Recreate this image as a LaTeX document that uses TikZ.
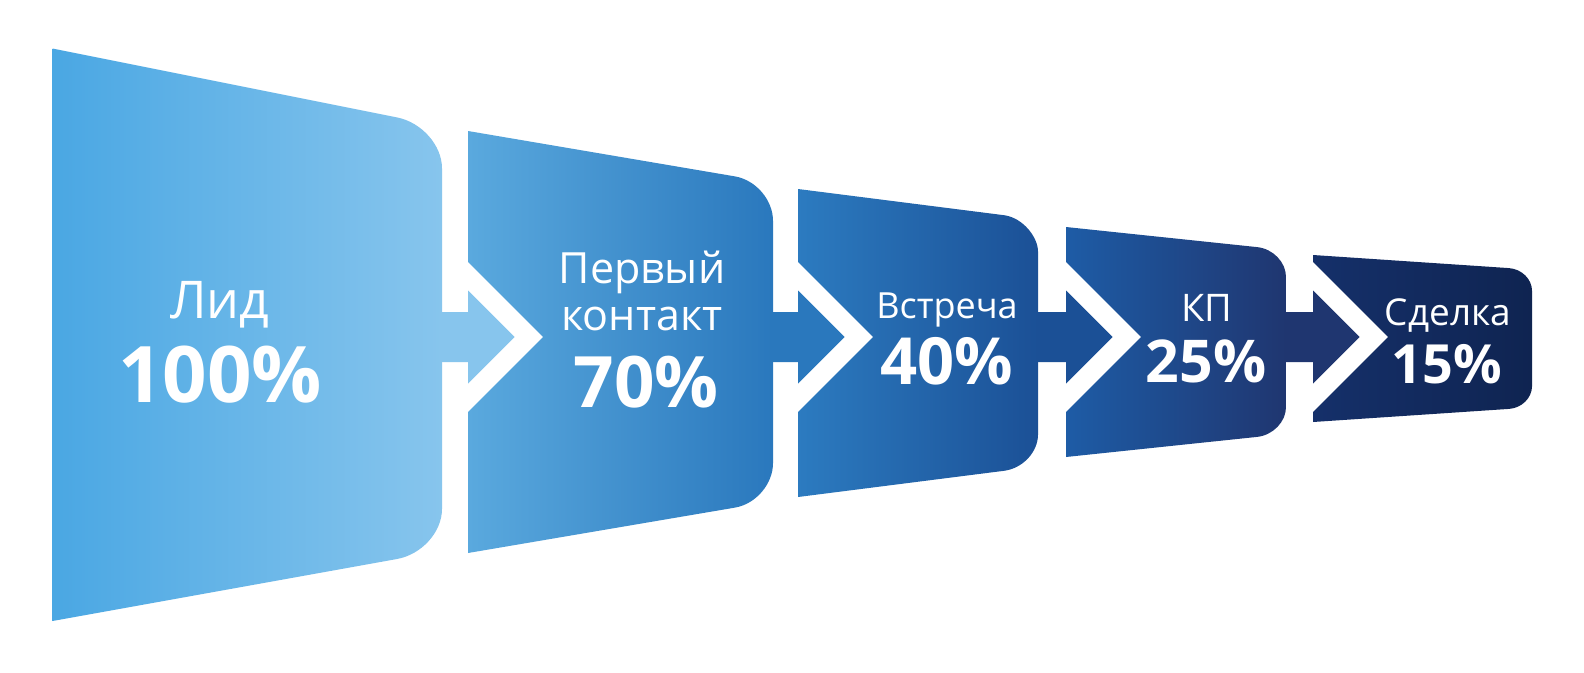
\documentclass[tikz,border=0pt]{standalone}
\usepackage{fontspec}
\setmainfont{Open Sans}
\definecolor{lidL}{HTML}{4AA7E3}
\definecolor{lidR}{HTML}{87C5ED}
\definecolor{kontL}{HTML}{5AA9DE}
\definecolor{kontR}{HTML}{2A78BD}
\definecolor{vstrL}{HTML}{2C7BC0}
\definecolor{vstrR}{HTML}{1B5096}
\definecolor{kpL}{HTML}{1E5CA6}
\definecolor{kpR}{HTML}{1F3670}
\definecolor{sdL}{HTML}{15306A}
\definecolor{sdR}{HTML}{0F2451}

\begin{document}
\begin{tikzpicture}[x=1pt,y=-1pt,
	lbl/.style={text=white,inner sep=0pt,anchor=base,font=\fontsize{#1}{#1}\selectfont},
	pct/.style={text=white,inner sep=0pt,anchor=base,font=\fontsize{#1}{#1}\selectfont\bfseries}]
					\useasboundingbox[fill=white] (0,0) rectangle (1584,672);
					% stages
					\shade[left color=lidL,right color=lidR] (52.5,48.5) -- (397,117.4) .. controls (421.8,122.4) and (442,145.3) .. (442,168.4) -- (442,508.9) .. controls (442,532) and (421.8,554.5) .. (397,559) -- (52.5,621) -- cycle;
					\shade[left color=kontL,right color=kontR] (468,131) -- (735,176.4) .. controls (755.9,180) and (773,200) .. (773,220.9) -- (773,463.1) .. controls (773,484) and (755.9,504) .. (735,507.6) -- (468,553) -- (468,412) -- (543,337) -- (468,262) -- cycle;
					\shade[left color=vstrL,right color=vstrR] (798,189) -- (1004,215.2) .. controls (1022.7,217.6) and (1038,237.1) .. (1038,251.5) -- (1038,434.5) .. controls (1038,452.1) and (1022.7,468.4) .. (1004,470.8) -- (798,497) -- (798,412) -- (873,337) -- (798,262) -- cycle;
					\shade[left color=kpL,right color=kpR] (1066,227) -- (1257,247.1) .. controls (1273,248.7) and (1286,262.2) .. (1286,277.1) -- (1286,406.9) .. controls (1286,421.8) and (1273,435.2) .. (1257,436.9) -- (1066,457) -- (1066,412) -- (1141,337) -- (1066,262) -- cycle;
					\shade[left color=sdL,right color=sdR] (1313,255) -- (1509,268.1) .. controls (1521.7,269) and (1532,279.2) .. (1532,290.7) -- (1532,386.3) .. controls (1532,397.8) and (1521.7,408.1) .. (1509,408.9) -- (1313,422) -- (1313,412) -- (1388,337) -- (1313,262) -- cycle;
					% arrows between stages
					\foreach \r/\l/\c in {442/468/lidR,773/798/kontR,1038/1066/vstrR,1286/1313/kpR}
						\fill[\c] (\r,312) -- (\l,312) -- (\l,290.5) -- (\l+46.5,337) -- (\l,383.5) -- (\l,362) -- (\r,362) -- cycle;
					% labels
					\node[lbl=52] (lid) at (220,318) {Лид};
					\node[pct=78] (lidval) at (220,402) {100\%};
					\node[lbl=43] (pervyj) at (642,283) {Первый};
					\node[lbl=43] (kontakt) at (642,330) {контакт};
					\node[pct=71] (kontaktval) at (646,407) {70\%};
					\node[lbl=36] (vstrecha) at (947,318) {Встреча};
					\node[pct=65] (vstrechaval) at (947,384) {40\%};
					\node[lbl=38] (kp) at (1207,321) {КП};
					\node[pct=59] (kpval) at (1206,382) {25\%};
					\node[lbl=37] (sdelka) at (1448,325) {Сделка};
					\node[pct=54] (sdelkaval) at (1447,383) {15\%};
				\end{tikzpicture}
\end{document}
